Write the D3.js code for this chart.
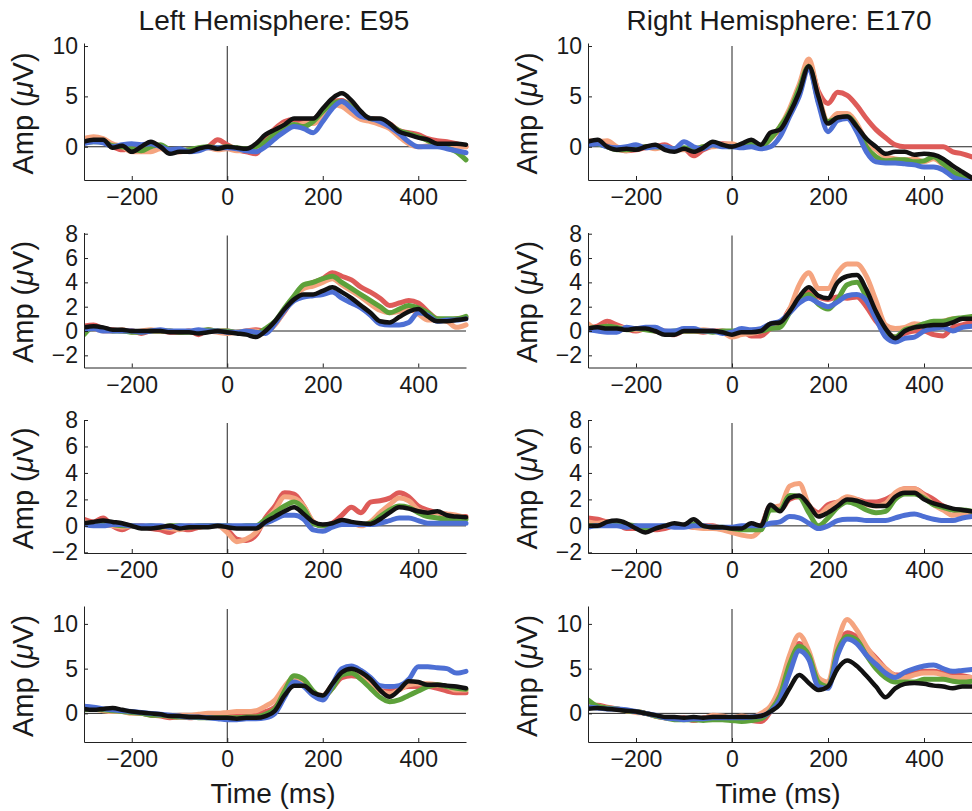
<!DOCTYPE html>
<html>
<head>
<meta charset="utf-8">
<script src="https://cdn.jsdelivr.net/npm/d3@7/dist/d3.min.js"></script>
<style>
  html, body { margin: 0; padding: 0; background: #fff; }
  svg { display: block; }
  text { font-family: "Liberation Sans", Arial, Helvetica, sans-serif; fill: #1a1a1a; }
</style>
</head>
<body>
<svg id="chart" width="972" height="811"></svg>
<script>
// Sample times (ms) relative to stimulus onset
const times = [-300,-280,-260,-240,-220,-200,-180,-160,-140,-120,-100,-80,-60,-40,-20,
  0,20,40,60,80,100,120,140,160,180,200,220,240,260,280,300,320,340,360,380,400,420,440,460,480,500];

const columnTitles = ["Left Hemisphere: E95", "Right Hemisphere: E170"];
const xTicks = [-200, 0, 200, 400];

// ---- Left hemisphere, electrode E95 (rows 1-4) ----
const e95_r1_red    = [0.6,0.8,0.5,0.0,-0.3,-0.2,-0.3,0.2,0.0,-0.4,-0.5,-0.3,-0.2,0.0,0.7, 0.2,-0.3,-0.5,-0.7,0.8,1.8,2.5,2.7,2.5,2.7,3.6,4.5,4.6,4.0,3.2,2.8,2.7,2.3,1.6,1.4,1.2,0.8,0.6,0.5,0.3,0.0];
const e95_r1_orange = [0.8,1.0,0.8,0.3,0.0,-0.5,-0.5,-0.5,-0.2,-0.3,-0.5,-0.4,-0.2,-0.1,-0.3, -0.2,-0.4,-0.3,-0.2,0.3,1.5,2.2,2.0,2.3,2.3,3.0,4.2,4.0,3.3,2.7,2.5,2.2,1.8,1.0,0.3,0.0,0.1,0.2,0.1,0.0,0.0];
const e95_r1_green  = [0.4,0.5,0.5,0.1,0.0,-0.2,-0.4,0.0,0.2,-0.3,-0.4,-0.3,-0.1,0.0,-0.1, 0.0,-0.1,-0.2,0.0,0.5,1.3,2.0,2.2,2.0,2.5,3.5,4.3,4.5,4.0,3.2,2.8,2.6,2.2,1.6,1.3,1.0,0.6,0.2,-0.1,-0.5,-1.3];
const e95_r1_blue   = [0.3,0.5,0.4,0.0,0.2,0.3,0.2,0.3,0.0,-0.3,-0.2,-0.5,-0.4,-0.1,-0.1, -0.1,-0.2,-0.4,-0.5,0.0,0.8,1.5,2.0,1.8,1.4,2.5,3.8,4.5,3.8,3.0,2.8,2.5,2.0,1.3,0.5,0.0,0.0,0.0,-0.2,-0.4,-0.6];
const e95_r1_black  = [0.5,0.7,0.7,-0.1,0.1,-0.5,0.0,0.5,0.0,-0.7,-0.5,-0.5,-0.2,0.0,-0.2, 0.0,-0.1,-0.2,0.3,1.2,1.7,2.2,2.8,2.8,2.8,3.8,4.8,5.3,4.6,3.5,2.8,2.8,2.3,1.5,1.2,0.9,0.7,0.3,0.3,0.3,0.2];

const e95_r2_red    = [0.4,0.5,0.2,0.1,0.0,0.0,-0.2,0.0,0.0,-0.1,-0.1,0.0,-0.3,0.1,0.0, 0.0,-0.1,0.0,0.1,0.0,0.6,1.6,2.8,3.6,4.0,4.3,4.8,4.5,4.2,3.6,3.2,2.7,2.1,2.3,2.5,2.3,1.6,1.0,0.9,1.0,1.1];
const e95_r2_orange = [0.3,0.2,0.0,0.0,0.1,-0.1,0.0,0.1,0.0,0.0,-0.1,0.0,-0.1,0.0,-0.1, -0.2,-0.1,0.0,0.0,-0.1,0.5,1.7,2.8,3.5,3.7,4.0,4.3,3.8,3.3,2.8,2.2,1.7,1.5,1.6,1.8,1.4,0.9,0.9,0.8,0.3,0.5];
const e95_r2_green  = [-0.3,0.3,0.2,0.0,0.0,-0.1,-0.1,0.0,0.0,0.0,-0.1,-0.1,0.0,0.1,0.0, 0.0,-0.1,-0.1,-0.2,0.2,0.8,1.9,2.9,3.8,4.0,4.3,4.5,4.0,3.5,3.0,2.5,2.0,1.5,1.8,2.1,1.9,1.5,1.0,1.0,1.0,1.2];
const e95_r2_blue   = [0.1,0.2,0.0,0.0,0.0,0.0,-0.1,0.0,0.1,0.0,0.0,0.0,0.1,0.0,0.0, -0.1,-0.1,0.0,-0.1,-0.2,0.6,1.7,2.5,2.8,2.9,3.0,3.2,2.7,2.3,1.9,1.3,0.6,0.5,0.5,0.7,1.5,1.3,0.8,0.9,0.9,1.0];
const e95_r2_black  = [0.3,0.4,0.3,0.1,0.1,0.0,0.0,0.0,0.0,-0.1,-0.1,-0.1,-0.2,-0.1,0.0, -0.1,-0.2,-0.3,-0.5,0.0,0.8,1.8,2.6,3.0,3.0,3.3,3.6,3.2,2.7,2.1,1.5,0.8,0.7,1.15,1.6,1.8,1.2,0.8,0.8,0.9,1.0];

const e95_r3_red    = [0.5,0.3,0.6,0.0,-0.3,0.0,0.0,-0.2,-0.3,-0.5,-0.2,-0.3,-0.1,0.0,0.0, -0.3,-1.0,-1.1,-0.7,0.6,1.5,2.5,2.4,1.5,0.3,0.0,0.2,0.8,1.4,1.0,1.8,1.9,2.1,2.5,2.2,1.5,1.2,1.0,0.8,0.7,0.7];
const e95_r3_orange = [0.3,0.2,0.1,0.0,-0.1,0.0,0.0,-0.1,-0.1,-0.2,-0.3,0.0,-0.1,0.0,0.0, -0.5,-1.2,-1.0,-0.5,0.4,1.2,2.2,2.1,1.5,0.3,0.0,0.0,0.2,0.2,0.0,0.3,1.0,1.6,2.1,1.9,1.2,1.0,1.0,0.9,0.8,0.6];
const e95_r3_green  = [0.2,0.1,0.2,0.1,0.0,0.0,-0.1,0.0,-0.1,0.0,0.0,-0.1,0.0,0.0,0.0, 0.0,-0.1,0.0,0.0,0.5,1.0,1.5,1.8,1.3,0.2,0.0,0.1,0.2,0.2,0.1,0.2,0.7,1.2,1.5,1.4,1.0,0.7,0.6,0.5,0.5,0.5];
const e95_r3_blue   = [0.1,0.0,0.0,0.1,0.1,0.0,0.0,0.0,0.0,-0.1,0.0,0.0,0.0,0.0,0.0, 0.0,0.0,0.0,0.0,0.2,0.5,0.8,0.8,0.5,-0.3,-0.4,-0.1,0.1,0.1,0.1,0.1,0.2,0.4,0.6,0.6,0.4,0.2,0.2,0.2,0.2,0.2];
const e95_r3_black  = [0.2,0.3,0.4,0.3,0.2,0.0,-0.2,-0.2,-0.1,0.0,-0.2,-0.1,-0.1,-0.1,0.0, -0.1,-0.2,-0.2,-0.2,0.3,0.7,1.1,1.4,0.9,0.3,0.1,0.2,0.45,0.3,0.2,0.15,0.5,1.0,1.4,1.3,1.1,1.0,1.1,0.8,0.7,0.65];

const e95_r4_red    = [0.8,0.6,0.4,0.3,0.2,0.1,0.0,-0.2,-0.3,-0.5,-0.4,-0.5,-0.4,-0.3,-0.2, -0.2,-0.3,-0.2,0.0,0.2,0.7,2.5,3.8,3.5,2.3,1.8,2.8,4.0,4.2,4.0,3.2,2.5,2.5,2.8,3.0,3.0,3.0,2.8,2.5,2.3,2.3];
const e95_r4_orange = [0.6,0.5,0.3,0.2,0.2,0.0,0.0,-0.1,-0.2,-0.3,-0.2,-0.2,-0.1,0.0,0.0, 0.1,0.2,0.2,0.3,0.8,1.5,3.0,4.0,3.5,2.3,2.0,3.2,4.5,4.8,4.2,3.2,2.5,2.2,2.6,3.2,3.3,3.3,3.2,3.0,2.6,2.6];
const e95_r4_green  = [0.4,0.5,0.4,0.3,0.2,0.1,0.0,-0.2,-0.2,-0.3,-0.4,-0.4,-0.5,-0.5,-0.5, -0.5,-0.5,-0.4,-0.4,-0.1,0.5,2.5,4.2,3.8,2.5,1.8,2.8,4.3,4.5,3.8,2.8,1.8,1.3,1.5,2.0,2.5,3.0,3.2,3.0,2.8,2.7];
const e95_r4_blue   = [0.8,0.7,0.5,0.4,0.3,0.2,0.1,0.0,-0.1,-0.2,-0.3,-0.4,-0.4,-0.5,-0.6, -0.7,-0.7,-0.6,-0.6,-0.5,0.0,1.8,3.5,3.0,2.0,1.5,3.2,5.0,5.3,4.8,4.0,3.1,3.0,3.1,3.8,5.2,5.2,5.1,5.0,4.5,4.7];
const e95_r4_black  = [0.5,0.4,0.5,0.6,0.4,0.2,0.1,0.0,-0.1,-0.3,-0.3,-0.4,-0.4,-0.5,-0.5, -0.5,-0.6,-0.5,-0.5,-0.3,0.3,2.0,3.1,3.1,2.3,2.0,3.3,4.6,5.0,4.6,3.8,2.6,1.85,2.6,3.6,3.5,3.2,3.2,3.1,3.0,2.8];

// ---- Right hemisphere, electrode E170 (rows 1-4) ----
const e170_r1_red    = [0.3,0.5,0.2,-0.2,-0.4,-0.3,-0.1,0.0,0.2,-0.2,-0.2,-0.9,-0.3,0.1,0.3, 0.2,0.0,0.3,0.0,0.8,1.8,3.5,5.8,8.2,5.5,4.3,5.4,5.1,4.1,2.8,1.7,0.9,0.2,0.0,0.0,0.0,0.0,0.0,-0.5,-0.7,-1.0];
const e170_r1_orange = [0.6,0.5,0.6,0.0,-0.4,-0.1,0.0,-0.2,0.0,-0.3,-0.3,-0.3,0.0,0.0,0.2, 0.3,0.0,0.2,0.0,0.8,2.0,3.8,6.2,8.7,5.2,2.5,3.3,3.3,2.3,0.5,-0.3,-1.0,-1.2,-1.3,-1.2,-1.5,-1.2,-1.8,-2.5,-3.0,-3.4];
const e170_r1_green  = [0.4,0.3,0.0,-0.3,-0.3,-0.2,0.0,0.0,-0.1,-0.2,-0.1,-0.2,0.0,0.2,0.1, 0.0,0.2,0.3,0.0,0.8,2.0,3.5,5.8,8.0,4.5,2.5,2.8,3.0,2.0,0.0,-1.0,-1.4,-1.3,-1.3,-1.5,-1.4,-1.0,-1.7,-2.5,-3.0,-3.4];
const e170_r1_blue   = [0.2,0.3,0.0,-0.1,0.0,0.2,-0.1,0.0,0.0,-0.2,0.5,0.0,-0.2,0.2,0.0, 0.0,-0.1,0.0,-0.2,0.0,1.0,3.0,5.0,7.8,4.3,1.5,2.6,2.8,1.5,-0.5,-1.5,-1.6,-1.6,-1.7,-1.8,-2.0,-2.0,-2.3,-3.0,-3.3,-3.5];
const e170_r1_black  = [0.5,0.7,0.0,-0.3,-0.2,-0.3,0.0,0.2,-0.3,-0.5,-0.2,-0.5,-0.1,0.5,0.2, 0.0,0.3,0.7,0.2,1.4,1.7,3.3,5.4,8.0,5.0,2.3,2.9,3.0,2.0,0.8,0.0,-0.7,-0.5,-0.5,-0.8,-0.7,-0.8,-1.2,-1.9,-2.5,-3.1];

const e170_r2_red    = [0.2,0.4,0.8,0.5,0.2,0.0,0.2,0.0,-0.2,-0.3,0.0,0.0,-0.1,0.0,0.0, -0.1,0.0,-0.4,-0.4,0.2,0.5,1.8,2.5,3.2,2.8,2.6,2.8,2.7,2.8,2.0,0.8,0.0,-0.5,-0.2,0.0,0.0,-0.3,-0.4,0.3,0.5,0.8];
const e170_r2_orange = [0.6,0.2,0.3,0.3,0.2,0.1,0.2,0.2,0.0,-0.1,0.0,0.0,0.1,0.0,-0.1, -0.5,-0.3,-0.2,0.0,0.3,0.5,1.8,3.8,4.8,3.5,3.5,4.8,5.5,5.5,4.5,2.5,0.5,0.2,0.3,0.6,0.5,0.6,0.8,1.0,1.0,1.1];
const e170_r2_green  = [0.2,0.3,0.4,0.3,0.1,0.2,0.1,0.0,-0.1,0.0,0.0,0.0,0.0,-0.1,0.0, 0.0,0.1,0.0,0.0,0.2,0.3,1.5,2.5,3.0,2.2,1.8,2.6,3.8,4.0,2.8,1.3,0.0,-0.5,0.1,0.3,0.6,0.8,0.8,1.0,1.1,1.2];
const e170_r2_blue   = [0.1,0.0,-0.1,-0.1,0.3,0.2,0.3,0.3,0.0,0.0,0.2,0.2,0.0,0.0,-0.2, -0.1,0.2,0.1,0.2,0.6,0.8,1.5,2.3,2.7,2.3,2.0,2.4,2.9,3.0,2.5,1.0,-0.5,-0.9,-0.6,-0.5,0.0,0.2,0.3,0.0,0.3,0.4];
const e170_r2_black  = [0.2,0.3,0.2,0.2,0.1,0.2,0.2,0.0,-0.3,-0.3,0.0,0.0,0.0,0.0,-0.1, -0.3,-0.1,-0.1,0.0,0.6,0.7,1.6,2.8,3.6,2.9,2.7,4.0,4.5,4.6,3.4,1.6,0.2,-0.6,0.0,0.3,0.4,0.5,0.5,0.7,1.0,1.0];

const e170_r3_red    = [0.6,0.5,0.3,0.2,-0.2,-0.2,-0.1,-0.3,-0.2,0.0,0.0,-0.1,0.0,0.0,-0.2, -0.3,-0.1,-0.2,0.0,1.5,1.2,2.0,2.2,1.5,1.0,1.6,1.8,2.0,2.0,1.8,1.8,2.0,2.4,2.8,2.8,2.4,2.0,1.5,1.2,1.0,1.0];
const e170_r3_orange = [0.3,0.2,0.3,0.2,0.0,-0.1,-0.2,-0.1,0.0,0.1,0.0,-0.1,-0.2,-0.2,-0.3, -0.5,-0.7,-0.8,-0.2,1.4,1.5,3.0,3.2,1.6,0.8,1.4,1.8,2.2,2.0,1.6,1.5,1.7,2.5,2.8,2.8,2.3,1.6,1.2,0.8,0.9,0.9];
const e170_r3_green  = [0.0,0.0,0.1,0.2,0.1,0.0,-0.2,-0.1,0.0,0.0,0.0,0.1,0.0,-0.1,-0.1, -0.2,-0.3,-0.3,-0.3,1.2,1.2,2.3,2.2,1.0,0.0,0.6,1.4,1.8,1.6,1.2,1.0,1.1,2.0,2.4,2.4,2.1,1.6,1.4,1.2,1.2,1.1];
const e170_r3_blue   = [-0.1,0.0,0.0,0.0,-0.1,0.0,0.0,0.0,0.0,-0.1,-0.1,0.0,0.0,-0.1,-0.1, -0.1,0.0,0.0,0.0,0.2,0.3,0.7,0.6,0.2,-0.2,0.0,0.4,0.5,0.5,0.4,0.4,0.4,0.6,0.8,0.9,0.7,0.5,0.4,0.4,0.6,0.7];
const e170_r3_black  = [0.0,0.0,0.3,0.4,0.2,-0.2,-0.5,-0.2,0.0,0.2,0.1,0.5,0.0,-0.1,-0.1, -0.2,-0.2,0.2,0.0,1.6,1.1,2.1,2.3,1.6,0.7,1.0,1.5,2.0,1.9,1.65,1.5,1.5,2.2,2.5,2.5,2.0,1.7,1.5,1.3,1.2,1.1];

const e170_r4_red    = [0.8,0.9,0.7,0.5,0.3,0.2,0.0,-0.3,-0.5,-0.6,-0.5,-0.8,-0.5,-0.4,-0.6, -0.5,-0.6,-0.8,-0.9,0.2,2.3,5.5,7.8,6.5,3.5,3.2,7.0,9.0,8.5,7.3,6.2,5.0,4.3,4.3,4.5,4.7,4.7,4.5,4.3,4.2,4.0];
const e170_r4_orange = [0.9,0.8,0.6,0.5,0.3,0.1,0.0,-0.3,-0.5,-0.5,-0.6,-0.7,-0.6,-0.2,-0.3, -0.5,-0.3,-0.5,0.0,0.8,3.0,6.5,8.8,7.0,4.0,3.5,8.0,10.5,9.3,7.5,6.0,5.0,4.2,4.0,4.3,4.5,4.5,4.3,4.0,4.0,4.0];
const e170_r4_green  = [1.5,0.8,0.6,0.5,0.3,0.2,0.0,-0.3,-0.5,-0.7,-0.7,-0.7,-0.8,-0.7,-0.7, -0.8,-0.9,-0.8,-0.6,0.3,2.0,5.5,7.5,6.5,3.5,3.0,7.0,8.6,8.2,6.5,5.0,4.0,3.5,3.5,3.5,3.8,3.8,3.8,3.6,3.5,3.6];
const e170_r4_blue   = [0.7,0.6,0.5,0.5,0.4,0.2,0.0,-0.2,-0.5,-0.6,-0.7,-0.6,-0.6,-0.5,-0.5, -0.5,-0.5,-0.4,-0.3,0.2,1.5,4.5,7.0,6.0,3.0,2.8,6.5,8.3,7.8,6.5,5.5,4.5,4.0,4.6,5.0,5.3,5.4,5.0,4.7,4.8,4.9];
const e170_r4_black  = [0.5,0.6,0.5,0.4,0.3,0.2,0.0,-0.2,-0.4,-0.4,-0.5,-0.4,-0.5,-0.4,-0.4, -0.4,-0.4,-0.4,-0.3,0.2,1.0,2.8,4.3,3.4,2.6,3.0,5.0,5.9,5.3,4.2,3.0,1.8,2.8,3.3,3.4,3.3,3.1,3.0,2.8,3.0,3.0];

// Per-row amplitude ticks
const yTicksRow1 = [0, 5, 10];
const yTicksRow2 = [-2, 0, 2, 4, 6, 8];
const yTicksRow3 = [-2, 0, 2, 4, 6, 8];
const yTicksRow4 = [0, 5, 10];

const seriesColors = ["#de5b58", "#f5a47f", "#5da13a", "#4d6fd4", "#111111"];

const panels = [
  { col: 0, row: 0, series: [e95_r1_red, e95_r1_orange, e95_r1_green, e95_r1_blue, e95_r1_black] },
  { col: 0, row: 1, series: [e95_r2_red, e95_r2_orange, e95_r2_green, e95_r2_blue, e95_r2_black] },
  { col: 0, row: 2, series: [e95_r3_red, e95_r3_orange, e95_r3_green, e95_r3_blue, e95_r3_black] },
  { col: 0, row: 3, series: [e95_r4_red, e95_r4_orange, e95_r4_green, e95_r4_blue, e95_r4_black] },
  { col: 1, row: 0, series: [e170_r1_red, e170_r1_orange, e170_r1_green, e170_r1_blue, e170_r1_black] },
  { col: 1, row: 1, series: [e170_r2_red, e170_r2_orange, e170_r2_green, e170_r2_blue, e170_r2_black] },
  { col: 1, row: 2, series: [e170_r3_red, e170_r3_orange, e170_r3_green, e170_r3_blue, e170_r3_black] },
  { col: 1, row: 3, series: [e170_r4_red, e170_r4_orange, e170_r4_green, e170_r4_blue, e170_r4_black] }
];

// ---- Layout ----
const colRanges = [[84, 466], [588, 972]];
const rowLayout = [
  { range: [180, 43],      domain: [-3.3, 10.3], ticks: yTicksRow1 },
  { range: [367.5, 232.5], domain: [-3, 8.1],    ticks: yTicksRow2 },
  { range: [553, 420],     domain: [-2.05, 8],   ticks: yTicksRow3 },
  { range: [742, 606],     domain: [-3.2, 12],   ticks: yTicksRow4 }
];
const tickFont = 23, labelFont = 28;
const axisColor = "#222";

const svg = d3.select("#chart");
const defs = svg.append("defs");

panels.forEach((p, i) => {
  const rl = rowLayout[p.row];
  const x = d3.scaleLinear().domain([-300, 500]).range(colRanges[p.col]);
  const y = d3.scaleLinear().domain(rl.domain).range(rl.range);
  const [x0, x1] = colRanges[p.col];
  const [yb, yt] = rl.range;

  const clipId = "clip" + i;
  defs.append("clipPath").attr("id", clipId)
    .append("rect").attr("x", x0).attr("y", yt).attr("width", x1 - x0 + 4).attr("height", yb - yt);

  const g = svg.append("g");

  // zero reference lines
  g.append("line").attr("x1", x0).attr("x2", x1).attr("y1", y(0)).attr("y2", y(0))
    .attr("stroke", axisColor).attr("stroke-width", 1);
  g.append("line").attr("x1", x(0)).attr("x2", x(0)).attr("y1", yb).attr("y2", y(rl.domain[1]) + 3)
    .attr("stroke", axisColor).attr("stroke-width", 1);

  // waveforms
  const line = d3.line().x((d, k) => x(times[k])).y(d => y(d)).curve(d3.curveMonotoneX);
  const lg = g.append("g").attr("clip-path", `url(#${clipId})`);
  p.series.forEach((vals, s) => {
    lg.append("path").attr("d", line(vals))
      .attr("fill", "none")
      .attr("stroke", seriesColors[s])
      .attr("stroke-width", s === 4 ? 4.5 : 5)
      .attr("stroke-linejoin", "round")
      .attr("stroke-linecap", "round");
  });

  // x axis (ticks point inward)
  const xAxis = d3.axisBottom(x).tickValues(xTicks).tickSizeInner(-4).tickSizeOuter(0)
    .tickPadding(10).tickFormat(d3.format("d"));
  const xg = g.append("g").attr("transform", `translate(0,${yb})`).call(xAxis);
  xg.select(".domain").attr("stroke", axisColor);
  xg.selectAll(".tick line").attr("stroke", axisColor);
  xg.selectAll(".tick text").attr("font-size", tickFont).attr("fill", "#1a1a1a")
    .attr("font-family", '"Liberation Sans", Arial, sans-serif').attr("dy", "0.66em");

  // y axis
  const yAxis = d3.axisLeft(y).tickValues(rl.ticks).tickSizeInner(-4).tickSizeOuter(0)
    .tickPadding(6).tickFormat(d3.format("d"));
  const yg = g.append("g").attr("transform", `translate(${x0},0)`).call(yAxis);
  yg.select(".domain").attr("stroke", axisColor);
  yg.selectAll(".tick line").attr("stroke", axisColor);
  yg.selectAll(".tick text").attr("font-size", tickFont).attr("fill", "#1a1a1a")
    .attr("font-family", '"Liberation Sans", Arial, sans-serif');

  // y label: Amp (μV)
  const yl = g.append("text")
    .attr("transform", `translate(${x0 - 51},${(yb + yt) / 2 + 2}) rotate(-90)`)
    .attr("text-anchor", "middle").attr("font-size", 29);
  yl.append("tspan").text("Amp (");
  yl.append("tspan").attr("font-style", "italic").text("\u03bc");
  yl.append("tspan").text("V)");

  if (p.row === 3) {
    g.append("text").attr("x", (x0 + x1) / 2 - 2).attr("y", 803)
      .attr("text-anchor", "middle").attr("font-size", labelFont).text("Time (ms)");
  }
  if (p.row === 0) {
    g.append("text").attr("x", (x0 + x1) / 2 - 1).attr("y", 30)
      .attr("text-anchor", "middle").attr("font-size", labelFont).text(columnTitles[p.col]);
  }
});
</script>
</body>
</html>
